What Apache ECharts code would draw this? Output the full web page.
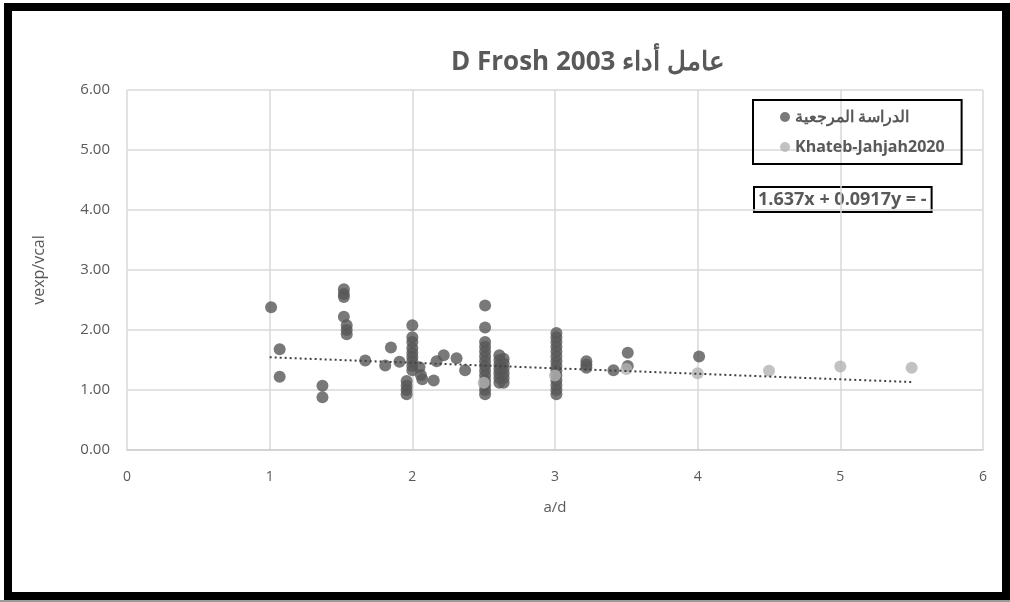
<!DOCTYPE html>
<html>
<head>
<meta charset="utf-8">
<script src="https://cdn.jsdelivr.net/npm/echarts@6/dist/echarts.min.js"></script>
<style>
  html, body { margin: 0; padding: 0; background: #ffffff; }
  #chart { position: absolute; left: 0; top: 0; width: 1010px; height: 602px; }
  #frame { position: absolute; left: 4px; top: 3px; width: 990px; height: 581px;
           border: 8px solid #000; pointer-events: none; }
  #strip { position: absolute; left: 0; top: 600px; width: 1010px; height: 2px; background: #9a9a9a; }
</style>
</head>
<body>
<div id="chart"></div>
<div id="frame"></div>
<div id="strip"></div>
<script>
// Reference study: a/d ratio and vexp/vcal
const refX = [
  1.01,
  1.07, 1.07,
  1.37, 1.37,
  1.52, 1.52, 1.52, 1.52,
  1.54, 1.54, 1.54,
  1.67, 1.81, 1.85, 1.91,
  1.96, 1.96, 1.96, 1.96,
  2.00, 2.00, 2.00, 2.00, 2.00, 2.00, 2.00, 2.00, 2.00,
  2.05, 2.06, 2.07,
  2.15, 2.17, 2.22, 2.31, 2.37,
  2.51, 2.51, 2.51, 2.51, 2.51, 2.51, 2.51, 2.51, 2.51, 2.51, 2.51, 2.51, 2.51, 2.51,
  2.61, 2.61, 2.61, 2.61, 2.61, 2.61, 2.61,
  2.64, 2.64, 2.64, 2.64, 2.64, 2.64,
  3.01, 3.01, 3.01, 3.01, 3.01, 3.01, 3.01, 3.01, 3.01, 3.01, 3.01, 3.01, 3.01, 3.01,
  3.22, 3.22, 3.22,
  3.41,
  3.51, 3.51,
  4.01
];
const refY = [
  2.38,
  1.68, 1.22,
  1.07, 0.88,
  2.68, 2.60, 2.55, 2.22,
  2.08, 2.00, 1.93,
  1.49, 1.41, 1.71, 1.47,
  1.15, 1.07, 1.00, 0.93,
  2.08, 1.88, 1.80, 1.70, 1.62, 1.55, 1.48, 1.40, 1.33,
  1.38, 1.25, 1.18,
  1.16, 1.48, 1.58, 1.53, 1.33,
  2.41, 2.04, 1.80, 1.72, 1.64, 1.56, 1.48, 1.40, 1.32, 1.24, 1.16, 1.08, 1.00, 0.93,
  1.58, 1.50, 1.42, 1.35, 1.28, 1.20, 1.12,
  1.52, 1.44, 1.36, 1.28, 1.20, 1.12,
  1.95, 1.88, 1.80, 1.72, 1.64, 1.56, 1.48, 1.40, 1.32, 1.24, 1.16, 1.08, 1.00, 0.93,
  1.48, 1.42, 1.37,
  1.33,
  1.62, 1.40,
  1.56
];

// Khateb-Jahjah 2020 tests
const khatebX = [2.50, 3.00, 3.50, 4.00, 4.50, 5.00, 5.50];
const khatebY = [1.12, 1.24, 1.35, 1.28, 1.32, 1.39, 1.37];

// Linear trend shown in the equation box: y = -0.0917x + 1.637
const trendSlope = -0.0917;
const trendIntercept = 1.637;
const trendRange = [1.0, 5.5];

const xTicks = [0, 1, 2, 3, 4, 5, 6];
const yTicks = [0, 1, 2, 3, 4, 5, 6];

const seriesNames = ['الدراسة المرجعية', 'Khateb-Jahjah2020'];
const titleText = 'D Frosh 2003 عامل أداء';
const equationText = '1.637x + 0.0917y = -';

const FONT = '"Open Sans", sans-serif';
const GREY = '#595959';

const refData = refX.map((x, i) => [x, refY[i]]);
const khatebData = khatebX.map((x, i) => [x, khatebY[i]]);
const trendData = trendRange.map(x => [x, trendSlope * x + trendIntercept]);

const chart = echarts.init(document.getElementById('chart'), null, { renderer: 'canvas' });

chart.setOption({
  backgroundColor: '#ffffff',
  animation: false,
  title: {
    text: titleText,
    left: 446,
    top: 45,
    textStyle: { fontFamily: FONT, fontSize: 26, fontWeight: 'bold', color: GREY }
  },
  grid: { left: 127, right: 27, top: 90, bottom: 152, containLabel: false },
  legend: {
    orient: 'vertical',
    left: 753,
    top: 100,
    data: seriesNames,
    icon: 'circle',
    itemWidth: 10,
    itemHeight: 10,
    itemGap: 14,
    borderColor: '#000',
    borderWidth: 2,
    padding: [9, 17, 9, 27],
    textStyle: { fontFamily: FONT, fontSize: 16, fontWeight: 'bold', color: GREY }
  },
  graphic: [{
    type: 'text',
    left: 753,
    top: 186,
    style: {
      text: equationText,
      font: 'bold 18px ' + FONT,
      fill: GREY,
      lineHeight: 20,
      borderColor: '#000',
      borderWidth: 2,
      padding: [3, 5, 2, 4]
    }
  }],
  xAxis: {
    type: 'value',
    min: xTicks[0],
    max: xTicks[xTicks.length - 1],
    interval: 1,
    name: 'a/d',
    nameLocation: 'middle',
    nameGap: 50,
    nameTextStyle: { fontFamily: FONT, fontSize: 15, color: GREY },
    axisLine: { show: true, lineStyle: { color: '#d0d0d0', width: 1.5 } },
    axisTick: { show: false },
    axisLabel: { margin: 20, fontFamily: FONT, fontSize: 14, color: GREY },
    splitLine: { show: true, lineStyle: { color: '#d9d9d9', width: 1.5 } }
  },
  yAxis: {
    type: 'value',
    min: yTicks[0],
    max: yTicks[yTicks.length - 1],
    interval: 1,
    name: 'vexp/vcal',
    nameLocation: 'middle',
    nameGap: 80,
    nameTextStyle: { fontFamily: FONT, fontSize: 16, color: GREY },
    axisLine: { show: false },
    axisTick: { show: false },
    axisLabel: { margin: 17, fontFamily: FONT, fontSize: 15, color: GREY,
                 formatter: v => v.toFixed(2) },
    splitLine: { show: true, lineStyle: { color: '#d9d9d9', width: 1.5 } }
  },
  series: [
    {
      name: seriesNames[0],
      type: 'scatter',
      data: refData,
      symbolSize: 12,
      itemStyle: { color: '#575757' },
      z: 2
    },
    {
      name: seriesNames[1],
      type: 'scatter',
      data: khatebData,
      symbolSize: 12,
      itemStyle: { color: '#b3b3b3' },
      z: 3
    },
    {
      name: 'trend',
      type: 'line',
      data: trendData,
      showSymbol: false,
      silent: true,
      lineStyle: { color: '#404040', width: 2, type: [2, 3] },
      z: 4
    }
  ]
});
</script>
</body>
</html>
